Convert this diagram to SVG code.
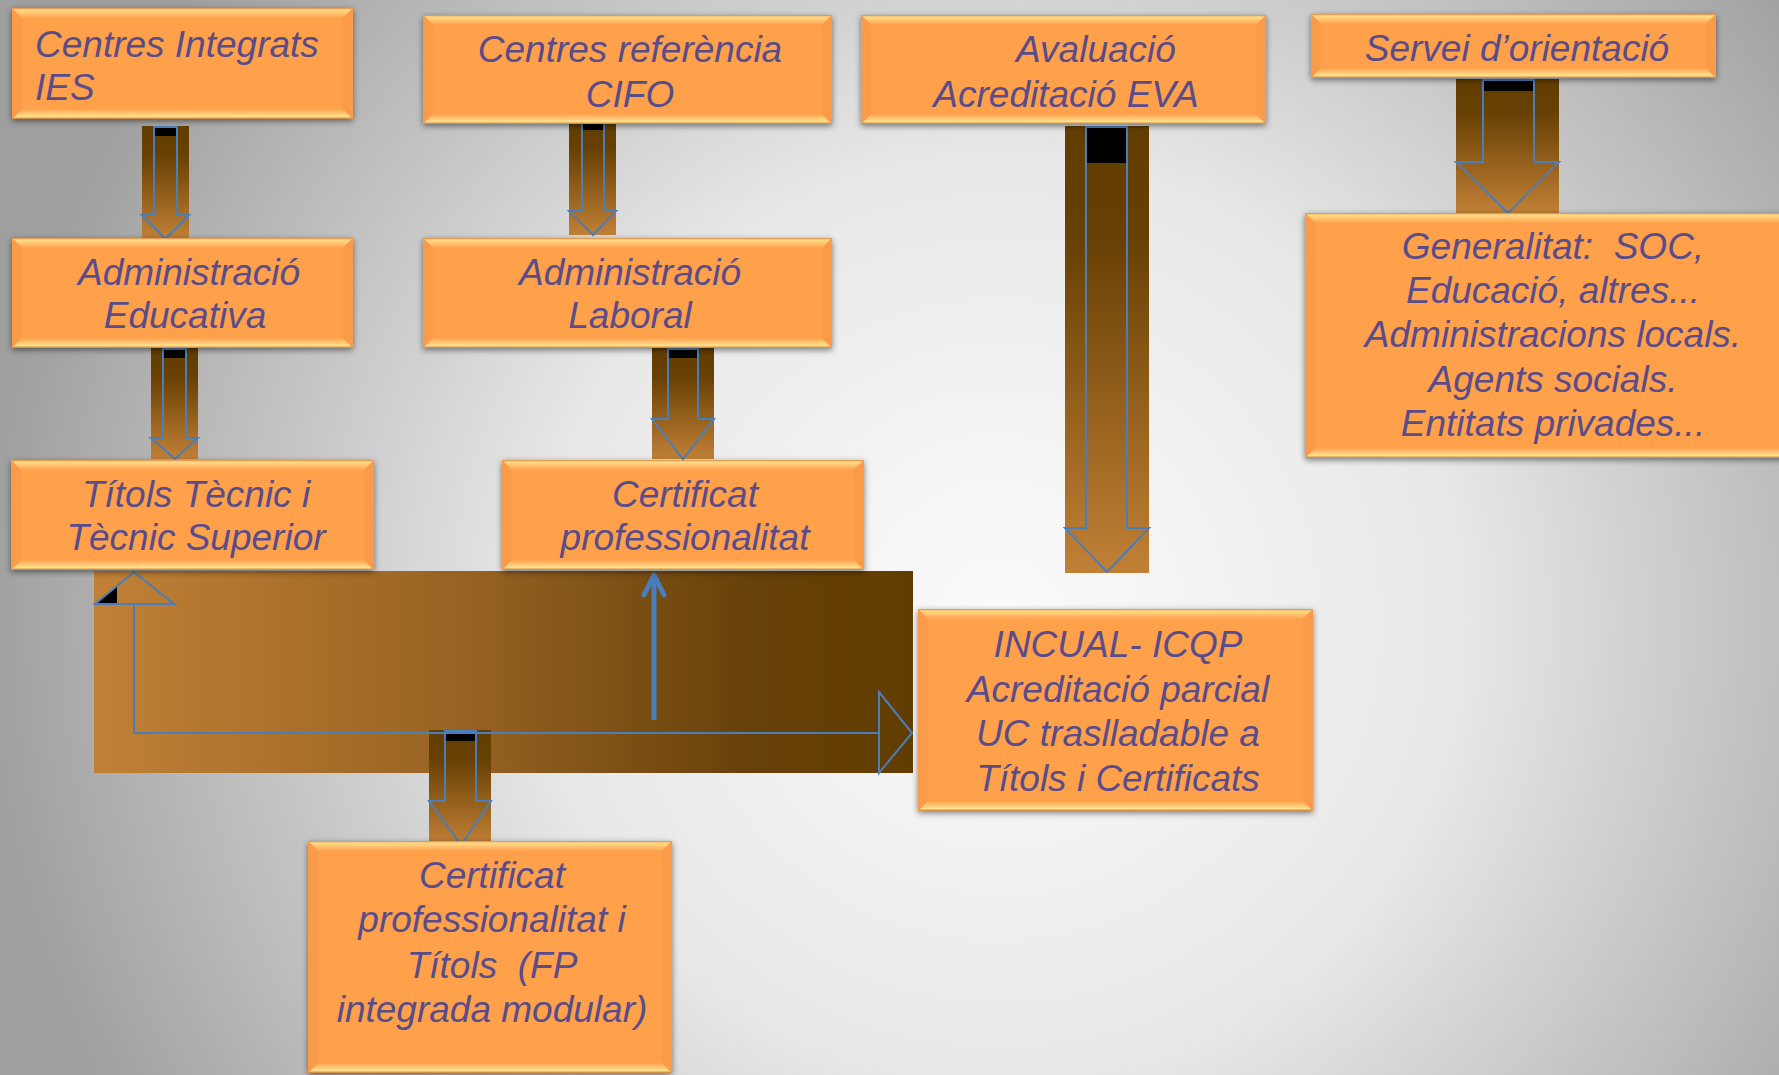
<svg xmlns="http://www.w3.org/2000/svg" width="1779" height="1075" viewBox="0 0 1779 1075">
<defs>
<radialGradient id="bg" gradientUnits="userSpaceOnUse" cx="1000" cy="620" r="1020">
<stop offset="0" stop-color="#fbfbfb"/><stop offset="0.45" stop-color="#e8e8e8"/><stop offset="1" stop-color="#9f9f9f"/>
</radialGradient>
<linearGradient id="brownV" x1="0" y1="0" x2="0" y2="1">
<stop offset="0" stop-color="#623d00"/><stop offset="0.25" stop-color="#674003"/><stop offset="1" stop-color="#c18036"/>
</linearGradient>
<linearGradient id="brownH" x1="0" y1="0" x2="1" y2="0">
<stop offset="0" stop-color="#c18036"/><stop offset="0.45" stop-color="#976322"/><stop offset="0.8" stop-color="#67410a"/><stop offset="1" stop-color="#623d00"/>
</linearGradient>
<linearGradient id="bt" x1="0" y1="0" x2="0" y2="1">
<stop offset="0" stop-color="#d98a45"/><stop offset="0.2" stop-color="#ffdc88"/><stop offset="1" stop-color="#ffa24e"/>
</linearGradient>
<linearGradient id="bb" x1="0" y1="0" x2="0" y2="1">
<stop offset="0" stop-color="#ffa24e"/><stop offset="0.75" stop-color="#ffe08c"/><stop offset="1" stop-color="#c97d3a"/>
</linearGradient>
<filter id="sh" x="-5%" y="-10%" width="110%" height="125%">
<feGaussianBlur in="SourceAlpha" stdDeviation="3"/><feOffset dy="2"/>
<feComponentTransfer><feFuncA type="linear" slope="0.5"/></feComponentTransfer>
<feMerge><feMergeNode/><feMergeNode in="SourceGraphic"/></feMerge>
</filter>
</defs>
<style>
.box{fill:#ffa04c;filter:url(#sh)}
.t{fill:url(#bt)}
.b{fill:url(#bb)}
.s{fill:#f99b48}
.txt{font-family:"Liberation Sans",Arial,sans-serif;font-style:italic;font-size:37px;fill:#594c8a;text-anchor:middle;white-space:pre}
.brn{fill:url(#brownV)}
.ol{fill:none;stroke:#4a7ebb;stroke-width:2;stroke-linejoin:miter}
.bar{fill:#000}
.ln{fill:none;stroke:#4a7ebb;stroke-width:2}
</style>
<rect x="0" y="0" width="1779" height="1075" fill="url(#bg)"/>

<g id="connectors">
<rect x="94" y="571" width="819" height="202" fill="url(#brownH)"/>
<g id="c1"><rect class="brn" x="142" y="126" width="47" height="113"/><rect class="bar" x="154" y="127" width="23" height="9"/><path class="ol" d="M154,127 L177,127 L177,215 L189,215 L165.5,239 L142,215 L154,215 Z"/></g>
<g id="c2"><rect class="brn" x="569" y="120" width="47" height="115"/><rect class="bar" x="582" y="121" width="22" height="9"/><path class="ol" d="M582,121 L604,121 L604,211 L616,211 L593,235 L569,211 L582,211 Z"/></g>
<g id="c3"><rect class="brn" x="151" y="348" width="47" height="111"/><rect class="bar" x="163" y="349" width="23" height="9"/><path class="ol" d="M163,349 L186,349 L186,438 L198,438 L175,459 L151,438 L163,438 Z"/></g>
<g id="c4"><rect class="brn" x="652" y="348" width="62" height="111"/><rect class="bar" x="668" y="349" width="30" height="9"/><path class="ol" d="M668,349 L698,349 L698,419 L714,419 L683,459 L652,419 L668,419 Z"/></g>
<g id="c5"><rect class="brn" x="1065" y="126" width="84" height="447"/><rect class="bar" x="1086" y="127" width="41" height="36"/><path class="ol" d="M1086,127 L1127,127 L1127,528 L1149,528 L1107,572 L1065,528 L1086,528 Z"/></g>
<g id="c6"><rect class="brn" x="1456" y="79" width="103" height="134"/><rect class="bar" x="1483" y="80" width="51" height="11"/><path class="ol" d="M1483,80 L1534,80 L1534,162 L1559,162 L1508,213 L1456,162 L1483,162 Z"/></g>
<g id="c7"><rect class="brn" x="429" y="730" width="62" height="115"/><rect class="bar" x="445" y="732" width="31" height="9"/><path class="ol" d="M445,731 L476,731 L476,801 L491,801 L461,845 L429,801 L445,801 Z"/></g>
<g id="c8">
<polygon class="bar" points="96,603 117,603 117,586"/>
<polygon class="ol" points="134,572 95,604 174,604"/>
<polyline class="ln" points="134,604 134,733 879,733"/>
<polygon class="ol" points="879,692 912,733 879,773"/>
</g>
<g id="c9">
<line x1="654" y1="720" x2="654" y2="578" stroke="#4a7ebb" stroke-width="5"/>
<polyline points="644,595 654,575 664,595" fill="none" stroke="#4a7ebb" stroke-width="5" stroke-linecap="round" stroke-linejoin="round"/>
</g>
</g>

<g id="n1">
<rect class="box" x="12" y="8" width="341" height="111"/>
<polygon class="t" points="12,8 353,8 343,18 22,18"/><polygon class="b" points="12,119 353,119 343,109 22,109"/>
<polygon class="s" points="12,8 22,18 22,109 12,119"/><polygon class="s" points="353,8 343,18 343,109 353,119"/>
<text class="txt" style="text-anchor:start" x="35" y="57">Centres Integrats</text>
<text class="txt" style="text-anchor:start" x="35" y="100">IES</text>
</g>
<g id="n2">
<rect class="box" x="423" y="15" width="409" height="109"/>
<polygon class="t" points="423,15 832,15 822,25 433,25"/><polygon class="b" points="423,124 832,124 822,114 433,114"/>
<polygon class="s" points="423,15 433,25 433,114 423,124"/><polygon class="s" points="832,15 822,25 822,114 832,124"/>
<text class="txt" x="630" y="62">Centres referència</text>
<text class="txt" x="630" y="107">CIFO</text>
</g>
<g id="n3">
<rect class="box" x="861" y="15" width="405" height="109"/>
<polygon class="t" points="861,15 1266,15 1256,25 871,25"/><polygon class="b" points="861,124 1266,124 1256,114 871,114"/>
<polygon class="s" points="861,15 871,25 871,114 861,124"/><polygon class="s" points="1266,15 1256,25 1256,114 1266,124"/>
<text class="txt" x="1096" y="62">Avaluació</text>
<text class="txt" x="1066" y="107">Acreditació EVA</text>
</g>
<g id="n4">
<rect class="box" x="1311" y="14" width="405" height="64"/>
<polygon class="t" points="1311,14 1716,14 1706,24 1321,24"/><polygon class="b" points="1311,78 1716,78 1706,68 1321,68"/>
<polygon class="s" points="1311,14 1321,24 1321,68 1311,78"/><polygon class="s" points="1716,14 1706,24 1706,68 1716,78"/>
<text class="txt" x="1517" y="61">Servei d’orientació</text>
</g>
<g id="n5">
<rect class="box" x="12" y="238" width="341" height="110"/>
<polygon class="t" points="12,238 353,238 343,248 22,248"/><polygon class="b" points="12,348 353,348 343,338 22,338"/>
<polygon class="s" points="12,238 22,248 22,338 12,348"/><polygon class="s" points="353,238 343,248 343,338 353,348"/>
<text class="txt" x="189" y="285">Administració</text>
<text class="txt" x="185" y="328">Educativa</text>
</g>
<g id="n6">
<rect class="box" x="423" y="238" width="409" height="110"/>
<polygon class="t" points="423,238 832,238 822,248 433,248"/><polygon class="b" points="423,348 832,348 822,338 433,338"/>
<polygon class="s" points="423,238 433,248 433,338 423,348"/><polygon class="s" points="832,238 822,248 822,338 832,348"/>
<text class="txt" x="630" y="285">Administració</text>
<text class="txt" x="630" y="328">Laboral</text>
</g>
<g id="n7">
<rect class="box" x="1305" y="213" width="496" height="245"/>
<polygon class="t" points="1305,213 1801,213 1791,223 1315,223"/><polygon class="b" points="1305,458 1801,458 1791,448 1315,448"/>
<polygon class="s" points="1305,213 1315,223 1315,448 1305,458"/>
<text class="txt" x="1553" y="259">Generalitat:  SOC,</text>
<text class="txt" x="1553" y="303">Educació, altres...</text>
<text class="txt" x="1553" y="347">Administracions locals.</text>
<text class="txt" x="1553" y="392">Agents socials.</text>
<text class="txt" x="1553" y="436">Entitats privades...</text>
</g>
<g id="n8">
<rect class="box" x="11" y="460" width="363" height="110"/>
<polygon class="t" points="11,460 374,460 364,470 21,470"/><polygon class="b" points="11,570 374,570 364,560 21,560"/>
<polygon class="s" points="11,460 21,470 21,560 11,570"/><polygon class="s" points="374,460 364,470 364,560 374,570"/>
<text class="txt" x="196" y="507">Títols Tècnic i</text>
<text class="txt" x="196" y="550">Tècnic Superior</text>
</g>
<g id="n9">
<rect class="box" x="502" y="460" width="362" height="110"/>
<polygon class="t" points="502,460 864,460 854,470 512,470"/><polygon class="b" points="502,570 864,570 854,560 512,560"/>
<polygon class="s" points="502,460 512,470 512,560 502,570"/><polygon class="s" points="864,460 854,470 854,560 864,570"/>
<text class="txt" x="685" y="507">Certificat</text>
<text class="txt" x="685" y="550">professionalitat</text>
</g>
<g id="n10">
<rect class="box" x="918" y="609" width="395" height="202"/>
<polygon class="t" points="918,609 1313,609 1303,619 928,619"/><polygon class="b" points="918,811 1313,811 1303,801 928,801"/>
<polygon class="s" points="918,609 928,619 928,801 918,811"/><polygon class="s" points="1313,609 1303,619 1303,801 1313,811"/>
<text class="txt" x="1118" y="657">INCUAL- ICQP</text>
<text class="txt" x="1118" y="702">Acreditació parcial</text>
<text class="txt" x="1118" y="746">UC traslladable a</text>
<text class="txt" x="1118" y="791">Títols i Certificats</text>
</g>
<g id="n11">
<rect class="box" x="308" y="841" width="364" height="232"/>
<polygon class="t" points="308,841 672,841 662,851 318,851"/><polygon class="b" points="308,1073 672,1073 662,1063 318,1063"/>
<polygon class="s" points="308,841 318,851 318,1063 308,1073"/><polygon class="s" points="672,841 662,851 662,1063 672,1073"/>
<text class="txt" x="492" y="888">Certificat</text>
<text class="txt" x="492" y="932">professionalitat i</text>
<text class="txt" x="492" y="978">Títols  (FP</text>
<text class="txt" x="492" y="1022">integrada modular)</text>
</g>
</svg>
